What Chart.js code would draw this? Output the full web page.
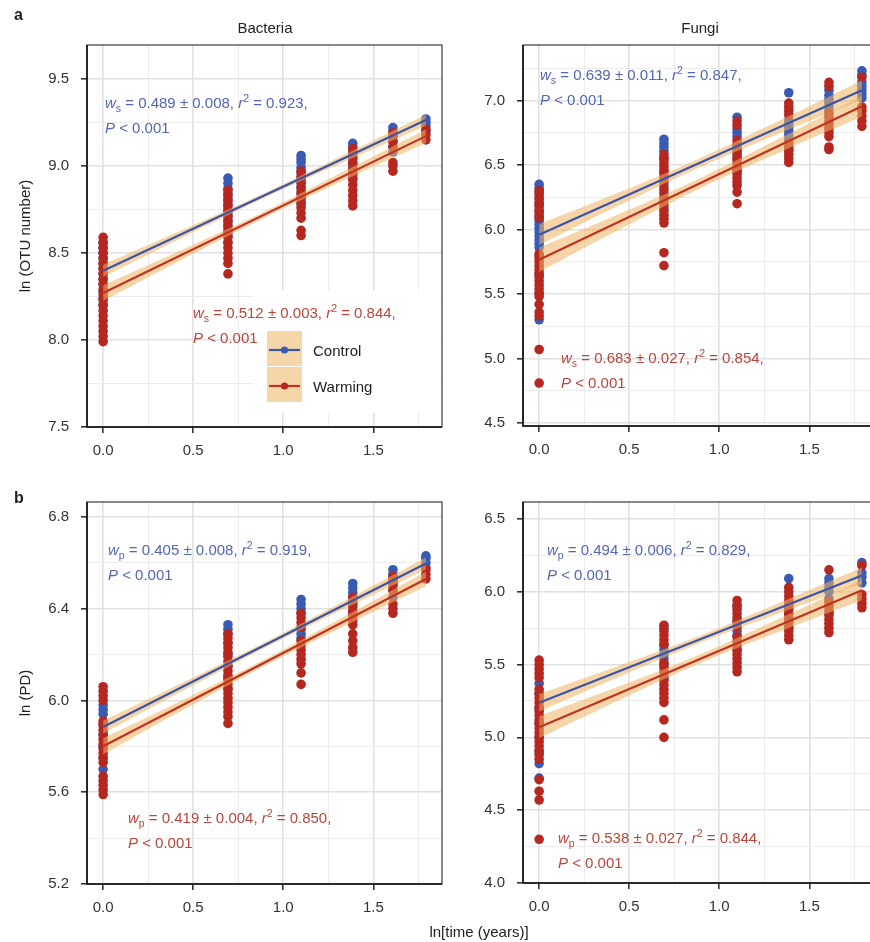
<!DOCTYPE html>
<html>
<head>
<meta charset="utf-8">
<title>OTU number and PD over time</title>
<script src="https://cdn.jsdelivr.net/npm/chart.js@4.4.1/dist/chart.umd.min.js"></script>
<style>
  html, body { margin:0; padding:0; background:#fff; width:870px; height:942px; overflow:hidden; }
  body { position:relative; }
  canvas.panel { position:absolute; }
  svg.overlay { position:absolute; left:0; top:0; width:870px; height:942px; pointer-events:none; }
  svg text { font-family:"Liberation Sans", Arial, Helvetica, sans-serif; fill:#222; }
</style>
</head>
<body>
<canvas class="panel" id="cA1" width="440" height="438" style="left:7px;top:24px;width:440px;height:438px;"></canvas>
<canvas class="panel" id="cA2" width="440" height="437" style="left:443px;top:24px;width:440px;height:437px;"></canvas>
<canvas class="panel" id="cB1" width="440" height="438" style="left:7px;top:481px;width:440px;height:438px;"></canvas>
<canvas class="panel" id="cB2" width="440" height="437" style="left:443px;top:481px;width:440px;height:437px;"></canvas>

<svg class="overlay" xmlns="http://www.w3.org/2000/svg">
  <text x="14" y="20" font-size="16" font-weight="bold">a</text>
  <text x="14" y="503" font-size="16" font-weight="bold">b</text>
  <text x="265" y="33" font-size="15" text-anchor="middle">Bacteria</text>
  <text x="700" y="33" font-size="15" text-anchor="middle">Fungi</text>
  <text transform="translate(30,236) rotate(-90)" font-size="15" text-anchor="middle">ln (OTU number)</text>
  <text transform="translate(30,693) rotate(-90)" font-size="15" text-anchor="middle">ln (PD)</text>
  <text x="479" y="937" font-size="15" text-anchor="middle">ln[time (years)]</text>
</svg>

<script>
// ---------------- DATA ----------------
const timeX = [0, 0.693, 1.099, 1.386, 1.609, 1.792];   // ln(1..6 years)
const xMajorTicks = [0, 0.5, 1.0, 1.5];
const xTickLabels = ['0.0', '0.5', '1.0', '1.5'];
const xMinorGrid = [0.25, 0.75, 1.25, 1.75];
const bandX = [0, 0.448, 0.896, 1.344, 1.792];

// Bacteria ln(OTU number)
const otuBacCtrl = [
  [8.20, 8.24, 8.28, 8.32, 8.35, 8.38, 8.41, 8.44, 8.47, 8.50, 8.53, 8.56],
  [8.56, 8.60, 8.63, 8.66, 8.69, 8.72, 8.75, 8.78, 8.81, 8.84, 8.87, 8.90, 8.93],
  [8.78, 8.81, 8.84, 8.87, 8.90, 8.93, 8.96, 8.99, 9.02, 9.04, 9.06],
  [8.93, 8.96, 8.99, 9.02, 9.05, 9.08, 9.11, 9.13],
  [9.08, 9.11, 9.14, 9.17, 9.20, 9.22],
  [9.20, 9.23, 9.25, 9.27]
];
const otuBacWarm = [
  [7.99, 8.02, 8.05, 8.08, 8.11, 8.14, 8.17, 8.20, 8.23, 8.26, 8.29, 8.32, 8.35, 8.38, 8.41, 8.44, 8.47, 8.50, 8.53, 8.56, 8.59],
  [8.38, 8.44, 8.47, 8.50, 8.53, 8.56, 8.59, 8.62, 8.65, 8.68, 8.71, 8.74, 8.77, 8.80, 8.83, 8.86],
  [8.60, 8.63, 8.70, 8.73, 8.76, 8.79, 8.82, 8.85, 8.88, 8.91, 8.94, 8.97],
  [8.77, 8.80, 8.83, 8.86, 8.89, 8.92, 8.95, 8.98, 9.01, 9.04, 9.07, 9.10],
  [8.97, 9.00, 9.02, 9.11, 9.14, 9.17, 9.19],
  [9.15, 9.18, 9.21]
];
const otuBacFitCtrl = [8.398, 0.483];   // intercept, slope
const otuBacFitWarm = [8.270, 0.503];
const otuBacBandCtrl = [0.035, 0.022, 0.014, 0.020, 0.032];
const otuBacBandWarm = [0.045, 0.028, 0.018, 0.026, 0.040];
const otuBacYTicks = [7.5, 8.0, 8.5, 9.0, 9.5];
const otuBacYLabels = ['7.5', '8.0', '8.5', '9.0', '9.5'];
const otuBacYMinor = [7.75, 8.25, 8.75, 9.25];

// Fungi ln(OTU number)
const otuFunCtrl = [
  [5.30, 5.50, 5.65, 5.80, 5.86, 5.89, 5.92, 5.95, 5.98, 6.01, 6.04, 6.07, 6.10, 6.14, 6.19, 6.24, 6.29, 6.32, 6.35],
  [6.16, 6.22, 6.28, 6.34, 6.45, 6.55, 6.61, 6.64, 6.67, 6.70],
  [6.45, 6.55, 6.60, 6.65, 6.72, 6.75, 6.78, 6.87],
  [6.62, 6.70, 6.73, 6.76, 6.79, 6.82, 6.85, 7.06],
  [6.92, 6.95, 6.98, 7.01, 7.04, 7.08],
  [7.02, 7.05, 7.08, 7.11, 7.14, 7.20, 7.23]
];
const otuFunWarm = [
  [4.81, 5.07, 5.33, 5.36, 5.42, 5.48, 5.51, 5.54, 5.57, 5.60, 5.63, 5.66, 5.69, 5.72, 5.75, 5.78, 5.81, 6.09, 6.12, 6.15, 6.18, 6.21, 6.24, 6.27, 6.30],
  [5.72, 5.82, 6.05, 6.08, 6.11, 6.14, 6.19, 6.25, 6.31, 6.37, 6.40, 6.43, 6.46, 6.49, 6.52, 6.55, 6.58],
  [6.20, 6.29, 6.34, 6.37, 6.40, 6.43, 6.46, 6.49, 6.52, 6.55, 6.58, 6.62, 6.66, 6.69, 6.81, 6.84],
  [6.52, 6.55, 6.58, 6.61, 6.64, 6.67, 6.89, 6.92, 6.95, 6.98],
  [6.62, 6.64, 6.72, 6.75, 6.78, 6.81, 6.84, 6.87, 6.90, 7.11, 7.14],
  [6.80, 6.84, 6.88, 6.92, 6.95, 7.18]
];
const otuFunFitCtrl = [5.960, 0.625];
const otuFunFitWarm = [5.765, 0.664];
const otuFunBandCtrl = [0.080, 0.050, 0.035, 0.050, 0.075];
const otuFunBandWarm = [0.095, 0.060, 0.040, 0.055, 0.080];
const otuFunYTicks = [4.5, 5.0, 5.5, 6.0, 6.5, 7.0];
const otuFunYLabels = ['4.5', '5.0', '5.5', '6.0', '6.5', '7.0'];
const otuFunYMinor = [4.75, 5.25, 5.75, 6.25, 6.75, 7.25];

// Bacteria ln(PD)
const pdBacCtrl = [
  [5.70, 5.75, 5.80, 5.85, 5.90, 5.94, 5.96, 5.98],
  [6.05, 6.10, 6.15, 6.20, 6.25, 6.29, 6.31, 6.33],
  [6.27, 6.29, 6.31, 6.38, 6.40, 6.42, 6.44],
  [6.38, 6.42, 6.45, 6.47, 6.49, 6.51],
  [6.45, 6.48, 6.51, 6.53, 6.55, 6.57],
  [6.58, 6.60, 6.62, 6.63]
];
const pdBacWarm = [
  [5.59, 5.61, 5.63, 5.65, 5.67, 5.73, 5.75, 5.77, 5.79, 5.81, 5.83, 5.85, 5.87, 5.89, 5.91, 6.00, 6.02, 6.04, 6.06],
  [5.90, 5.93, 5.95, 5.97, 5.99, 6.01, 6.03, 6.05, 6.07, 6.09, 6.11, 6.13, 6.15, 6.17, 6.19, 6.21, 6.23, 6.25, 6.27, 6.29],
  [6.07, 6.12, 6.16, 6.18, 6.20, 6.22, 6.24, 6.26, 6.32, 6.34, 6.36, 6.38],
  [6.21, 6.23, 6.26, 6.29, 6.33, 6.35, 6.37, 6.39, 6.41, 6.43, 6.45],
  [6.38, 6.40, 6.42, 6.48, 6.50, 6.52, 6.54],
  [6.53, 6.55, 6.57]
];
const pdBacFitCtrl = [5.884, 0.398];
const pdBacFitWarm = [5.800, 0.407];
const pdBacBandCtrl = [0.028, 0.018, 0.012, 0.017, 0.026];
const pdBacBandWarm = [0.035, 0.022, 0.014, 0.021, 0.032];
const pdBacYTicks = [5.2, 5.6, 6.0, 6.4, 6.8];
const pdBacYLabels = ['5.2', '5.6', '6.0', '6.4', '6.8'];
const pdBacYMinor = [5.4, 5.8, 6.2, 6.6];

// Fungi ln(PD)
const pdFunCtrl = [
  [4.72, 4.82, 4.90, 5.00, 5.10, 5.20, 5.30, 5.37],
  [5.40, 5.50, 5.54, 5.57, 5.60, 5.63, 5.75],
  [5.60, 5.70, 5.73, 5.80, 5.90],
  [5.75, 5.80, 5.85, 5.90, 6.09],
  [5.85, 5.90, 5.95, 6.00, 6.03, 6.06, 6.09],
  [6.06, 6.10, 6.13, 6.20]
];
const pdFunWarm = [
  [4.30, 4.57, 4.63, 4.71, 4.85, 4.88, 4.91, 4.94, 4.97, 5.00, 5.03, 5.06, 5.09, 5.12, 5.15, 5.18, 5.21, 5.24, 5.27, 5.30, 5.33, 5.41, 5.44, 5.47, 5.50, 5.53],
  [5.00, 5.12, 5.24, 5.27, 5.30, 5.33, 5.36, 5.39, 5.42, 5.45, 5.48, 5.51, 5.64, 5.67, 5.70, 5.73, 5.77],
  [5.45, 5.48, 5.51, 5.54, 5.57, 5.60, 5.63, 5.66, 5.69, 5.76, 5.79, 5.82, 5.85, 5.88, 5.91, 5.94],
  [5.67, 5.70, 5.73, 5.76, 5.79, 5.82, 5.85, 5.88, 5.91, 5.94, 5.97, 6.00, 6.03],
  [5.72, 5.75, 5.78, 5.81, 5.84, 5.87, 5.90, 5.93, 6.15],
  [5.89, 5.92, 5.95, 5.98, 6.18]
];
const pdFunFitCtrl = [5.238, 0.487];
const pdFunFitWarm = [5.070, 0.525];
const pdFunBandCtrl = [0.060, 0.038, 0.025, 0.036, 0.055];
const pdFunBandWarm = [0.075, 0.047, 0.030, 0.045, 0.070];
const pdFunYTicks = [4.0, 4.5, 5.0, 5.5, 6.0, 6.5];
const pdFunYLabels = ['4.0', '4.5', '5.0', '5.5', '6.0', '6.5'];
const pdFunYMinor = [4.25, 4.75, 5.25, 5.75, 6.25];

// statistics text
const statOtuBacCtrl = ['s', '0.489 ± 0.008', '0.923'];
const statOtuBacWarm = ['s', '0.512 ± 0.003', '0.844'];
const statOtuFunCtrl = ['s', '0.639 ± 0.011', '0.847'];
const statOtuFunWarm = ['s', '0.683 ± 0.027', '0.854'];
const statPdBacCtrl = ['p', '0.405 ± 0.008', '0.919'];
const statPdBacWarm = ['p', '0.419 ± 0.004', '0.850'];
const statPdFunCtrl = ['p', '0.494 ± 0.006', '0.829'];
const statPdFunWarm = ['p', '0.538 ± 0.027', '0.844'];
const legendLabels = ['Control', 'Warming'];

// ---------------- STYLE ----------------
const FONT = '"Liberation Sans", Arial, Helvetica, sans-serif';
const BLUE_PT = '#3a5bb3', RED_PT = '#b5271f';
const BLUE_LN = '#3b54a6', RED_LN = '#c1321f';
const BLUE_TX = '#5366b3', RED_TX = '#b8463a';
const RIBBON = 'rgba(238,178,98,0.55)';
const KEY_BG = '#f5d6a9';
const X_MIN = -0.0896, X_MAX = 1.8814;

function pts(cols) {
  const out = [];
  cols.forEach((col, i) => col.forEach(v => out.push({ x: timeX[i], y: v })));
  return out;
}
function fitLine(fit) {
  return [timeX[0], timeX[timeX.length - 1]].map(x => ({ x, y: fit[0] + fit[1] * x }));
}
function bandEdge(fit, hw, sign) {
  return bandX.map((x, i) => ({ x, y: fit[0] + fit[1] * x + sign * hw[i] }));
}
const near = (a, b) => Math.abs(a - b) < 1e-9;

function drawStat(ctx, x, y, stat, color) {
  const N = '15px ' + FONT, I = 'italic 15px ' + FONT, S = '10.5px ' + FONT;
  ctx.save();
  ctx.fillStyle = color; ctx.textAlign = 'left'; ctx.textBaseline = 'alphabetic';
  let cx = x, cy = y;
  const seg = (t, f, dy) => { ctx.font = f; ctx.fillText(t, cx, cy + (dy || 0)); cx += ctx.measureText(t).width; };
  seg('w', I); seg(stat[0], S, 4); seg(' = ' + stat[1] + ', ', N); seg('r', I); seg('2', S, -6); seg(' = ' + stat[2] + ',', N);
  cx = x; cy = y + 24.5;
  seg('P', I); seg(' < 0.001', N);
  ctx.restore();
}

function makePanel(id, p) {
  const ds = [
    { type: 'scatter', data: pts(p.ctrl), backgroundColor: BLUE_PT, borderWidth: 0, pointRadius: 4.8, pointHoverRadius: 4.8, order: 8 },
    { type: 'scatter', data: pts(p.warm), backgroundColor: RED_PT, borderWidth: 0, pointRadius: 4.8, pointHoverRadius: 4.8, order: 7 },
    { type: 'line', data: bandEdge(p.fitC, p.bandC, 1), borderWidth: 0, pointRadius: 0, fill: '+1', backgroundColor: RIBBON, tension: 0.35, order: 6 },
    { type: 'line', data: bandEdge(p.fitC, p.bandC, -1), borderWidth: 0, pointRadius: 0, fill: false, tension: 0.35, order: 5 },
    { type: 'line', data: bandEdge(p.fitW, p.bandW, 1), borderWidth: 0, pointRadius: 0, fill: '+1', backgroundColor: RIBBON, tension: 0.35, order: 4 },
    { type: 'line', data: bandEdge(p.fitW, p.bandW, -1), borderWidth: 0, pointRadius: 0, fill: false, tension: 0.35, order: 3 },
    { type: 'line', data: fitLine(p.fitC), borderColor: BLUE_LN, borderWidth: 2.2, pointRadius: 0, fill: false, order: 2 },
    { type: 'line', data: fitLine(p.fitW), borderColor: RED_LN, borderWidth: 2.2, pointRadius: 0, fill: false, order: 1 }
  ];
  const xAll = xMajorTicks.concat(xMinorGrid).sort((a, b) => a - b);
  const yAll = p.yTicks.concat(p.yMinor).sort((a, b) => a - b);
  const gridOpts = (majors) => ({
    color: c => majors.some(m => near(m, c.tick.value)) ? '#e1e1e1' : '#ececec',
    lineWidth: c => majors.some(m => near(m, c.tick.value)) ? 1.6 : 1.0,
    tickColor: c => majors.some(m => near(m, c.tick.value)) ? '#333' : 'rgba(0,0,0,0)',
    tickLength: 6,
    drawOnChartArea: true
  });
  const plugin = {
    id: 'deco_' + id,
    beforeDatasetsDraw(chart) {
      if (!p.legend) return;
      const ctx = chart.ctx, a = chart.chartArea;
      ctx.save();
      ctx.fillStyle = '#fff';
      ctx.fillRect(a.left + 166, a.top + 245, a.right - (a.left + 166) - 1, 123);
      ctx.fillStyle = KEY_BG;
      ctx.fillRect(a.left + 180, a.top + 286, 35, 35);
      ctx.fillRect(a.left + 180, a.top + 322, 35, 35);
      [[BLUE_LN, BLUE_PT, 305], [RED_LN, RED_PT, 341]].forEach(k => {
        ctx.strokeStyle = k[0]; ctx.lineWidth = 2.2;
        ctx.beginPath(); ctx.moveTo(a.left + 182, a.top + k[2]); ctx.lineTo(a.left + 213, a.top + k[2]); ctx.stroke();
        ctx.fillStyle = k[1];
        ctx.beginPath(); ctx.arc(a.left + 197.5, a.top + k[2], 3.6, 0, Math.PI * 2); ctx.fill();
      });
      ctx.fillStyle = '#222'; ctx.font = '15px ' + FONT; ctx.textBaseline = 'alphabetic'; ctx.textAlign = 'left';
      ctx.fillText(legendLabels[0], a.left + 226, a.top + 311);
      ctx.fillText(legendLabels[1], a.left + 226, a.top + 347);
      ctx.restore();
    },
    afterDatasetsDraw(chart) {
      const ctx = chart.ctx, a = chart.chartArea;
      ctx.save();
      ctx.strokeStyle = '#3a3a3a'; ctx.lineWidth = 1.2;
      ctx.strokeRect(a.left, a.top, a.right - a.left, a.bottom - a.top);
      ctx.strokeStyle = '#111'; ctx.lineWidth = 1.6;
      ctx.beginPath(); ctx.moveTo(a.left, a.top); ctx.lineTo(a.left, a.bottom); ctx.lineTo(a.right, a.bottom); ctx.stroke();
      ctx.restore();
      drawStat(ctx, a.left + p.txtC[0], a.top + p.txtC[1], p.statC, BLUE_TX);
      drawStat(ctx, a.left + p.txtW[0], a.top + p.txtW[1], p.statW, RED_TX);
    }
  };
  return new Chart(document.getElementById(id), {
    type: 'scatter',
    data: { datasets: ds },
    options: {
      responsive: false,
      animation: false,
      events: [],
      layout: { padding: { left: 0, right: 5, top: 5, bottom: 0 }, autoPadding: false },
      plugins: { legend: { display: false }, tooltip: { enabled: false }, title: { display: false } },
      scales: {
        x: {
          type: 'linear', min: X_MIN, max: X_MAX,
          afterBuildTicks: s => { s.ticks = xAll.map(v => ({ value: v })); },
          afterFit: s => { s.height = 35; },
          grid: gridOpts(xMajorTicks),
          border: { display: false },
          ticks: {
            autoSkip: false, maxRotation: 0, padding: 9, color: '#333',
            font: { family: FONT, size: 15 },
            callback: v => { const i = xMajorTicks.findIndex(m => near(m, v)); return i >= 0 ? xTickLabels[i] : ''; }
          }
        },
        y: {
          type: 'linear', min: p.yMin, max: p.yMax,
          afterBuildTicks: s => { s.ticks = yAll.map(v => ({ value: v })); },
          afterFit: s => { s.width = 80; },
          grid: gridOpts(p.yTicks),
          border: { display: false },
          ticks: {
            autoSkip: false, padding: 12, color: '#333',
            font: { family: FONT, size: 15 },
            callback: v => { const i = p.yTicks.findIndex(m => near(m, v)); return i >= 0 ? p.yLabels[i] : ''; }
          }
        }
      }
    },
    plugins: [plugin]
  });
}

makePanel('cA1', {
  ctrl: otuBacCtrl, warm: otuBacWarm, fitC: otuBacFitCtrl, fitW: otuBacFitWarm,
  bandC: otuBacBandCtrl, bandW: otuBacBandWarm,
  yMin: 7.5, yMax: 9.695, yTicks: otuBacYTicks, yLabels: otuBacYLabels, yMinor: otuBacYMinor,
  statC: statOtuBacCtrl, statW: statOtuBacWarm, txtC: [18, 63], txtW: [106, 273], legend: true
});
makePanel('cA2', {
  ctrl: otuFunCtrl, warm: otuFunWarm, fitC: otuFunFitCtrl, fitW: otuFunFitWarm,
  bandC: otuFunBandCtrl, bandW: otuFunBandWarm,
  yMin: 4.477, yMax: 7.43, yTicks: otuFunYTicks, yLabels: otuFunYLabels, yMinor: otuFunYMinor,
  statC: statOtuFunCtrl, statW: statOtuFunWarm, txtC: [17, 35], txtW: [38, 318], legend: false
});
makePanel('cB1', {
  ctrl: pdBacCtrl, warm: pdBacWarm, fitC: pdBacFitCtrl, fitW: pdBacFitWarm,
  bandC: pdBacBandCtrl, bandW: pdBacBandWarm,
  yMin: 5.2, yMax: 6.865, yTicks: pdBacYTicks, yLabels: pdBacYLabels, yMinor: pdBacYMinor,
  statC: statPdBacCtrl, statW: statPdBacWarm, txtC: [21, 53], txtW: [41, 321], legend: false
});
makePanel('cB2', {
  ctrl: pdFunCtrl, warm: pdFunWarm, fitC: pdFunFitCtrl, fitW: pdFunFitWarm,
  bandC: pdFunBandCtrl, bandW: pdFunBandWarm,
  yMin: 4.0, yMax: 6.616, yTicks: pdFunYTicks, yLabels: pdFunYLabels, yMinor: pdFunYMinor,
  statC: statPdFunCtrl, statW: statPdFunWarm, txtC: [24, 53], txtW: [35, 341], legend: false
});
</script>
</body>
</html>
